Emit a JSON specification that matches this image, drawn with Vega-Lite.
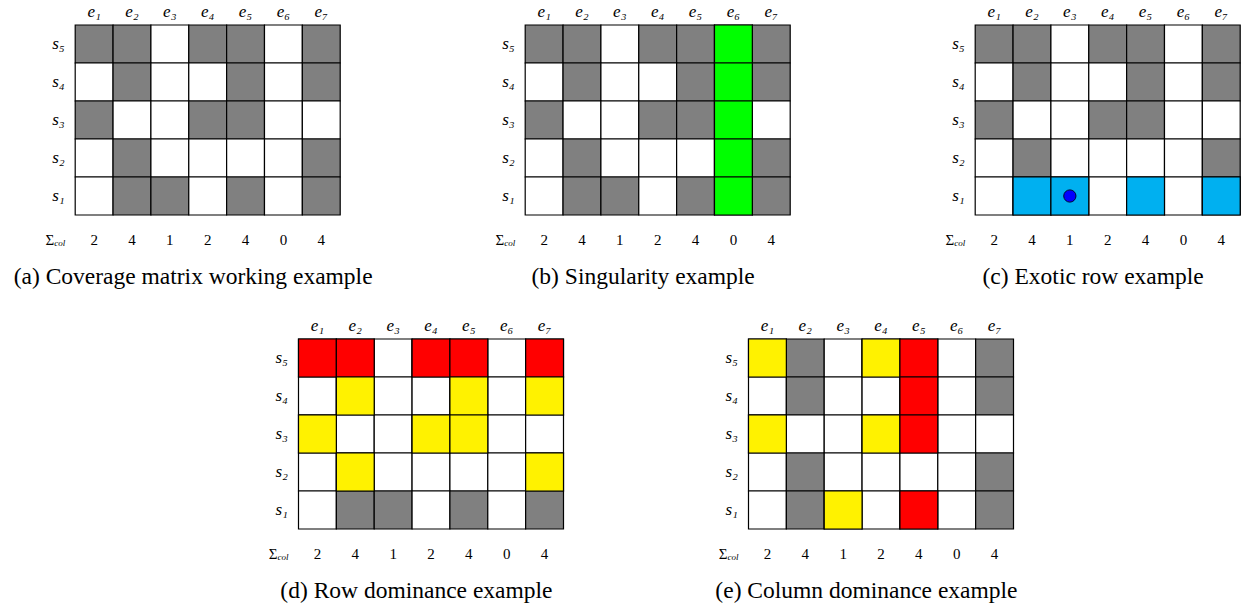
{
  "$schema": "https://vega.github.io/schema/vega-lite/v6.json",
  "padding": {"left": 13, "top": 2, "right": 0, "bottom": 0},
  "background": "white",
  "config": {
    "view": {"stroke": null},
    "font": "Liberation Serif",
    "axis": {"ticks": false, "domain": false, "grid": false, "labelFont": "Liberation Serif", "labelFontStyle": "italic", "labelFontSize": 17, "labelColor": "#000", "labelAngle": 0},
    "axisX": {"labelPadding": 5},
    "axisY": {"labelPadding": 11},
    "title": {"font": "Liberation Serif", "fontSize": 23.5, "fontWeight": "normal", "color": "#000", "orient": "bottom", "offset": 12, "frame": "bounds"},
    "text": {"font": "Liberation Serif", "fontSize": 15, "color": "#000"}
  },
  "datasets": {
    "base": [
      {"r": "s₅", "c": "e₁", "v": "G"}, {"r": "s₅", "c": "e₂", "v": "G"}, {"r": "s₅", "c": "e₃", "v": "W"}, {"r": "s₅", "c": "e₄", "v": "G"}, {"r": "s₅", "c": "e₅", "v": "G"}, {"r": "s₅", "c": "e₆", "v": "W"}, {"r": "s₅", "c": "e₇", "v": "G"},
      {"r": "s₄", "c": "e₁", "v": "W"}, {"r": "s₄", "c": "e₂", "v": "G"}, {"r": "s₄", "c": "e₃", "v": "W"}, {"r": "s₄", "c": "e₄", "v": "W"}, {"r": "s₄", "c": "e₅", "v": "G"}, {"r": "s₄", "c": "e₆", "v": "W"}, {"r": "s₄", "c": "e₇", "v": "G"},
      {"r": "s₃", "c": "e₁", "v": "G"}, {"r": "s₃", "c": "e₂", "v": "W"}, {"r": "s₃", "c": "e₃", "v": "W"}, {"r": "s₃", "c": "e₄", "v": "G"}, {"r": "s₃", "c": "e₅", "v": "G"}, {"r": "s₃", "c": "e₆", "v": "W"}, {"r": "s₃", "c": "e₇", "v": "W"},
      {"r": "s₂", "c": "e₁", "v": "W"}, {"r": "s₂", "c": "e₂", "v": "G"}, {"r": "s₂", "c": "e₃", "v": "W"}, {"r": "s₂", "c": "e₄", "v": "W"}, {"r": "s₂", "c": "e₅", "v": "W"}, {"r": "s₂", "c": "e₆", "v": "W"}, {"r": "s₂", "c": "e₇", "v": "G"},
      {"r": "s₁", "c": "e₁", "v": "W"}, {"r": "s₁", "c": "e₂", "v": "G"}, {"r": "s₁", "c": "e₃", "v": "G"}, {"r": "s₁", "c": "e₄", "v": "W"}, {"r": "s₁", "c": "e₅", "v": "G"}, {"r": "s₁", "c": "e₆", "v": "W"}, {"r": "s₁", "c": "e₇", "v": "G"}
    ],
    "overlay": [
      {"p": "b", "r": "s₅", "c": "e₆", "v": "green"}, {"p": "b", "r": "s₄", "c": "e₆", "v": "green"}, {"p": "b", "r": "s₃", "c": "e₆", "v": "green"}, {"p": "b", "r": "s₂", "c": "e₆", "v": "green"}, {"p": "b", "r": "s₁", "c": "e₆", "v": "green"},
      {"p": "c", "r": "s₁", "c": "e₂", "v": "cyan"}, {"p": "c", "r": "s₁", "c": "e₃", "v": "cyan"}, {"p": "c", "r": "s₁", "c": "e₅", "v": "cyan"}, {"p": "c", "r": "s₁", "c": "e₇", "v": "cyan"},
      {"p": "d", "r": "s₅", "c": "e₁", "v": "red"}, {"p": "d", "r": "s₅", "c": "e₂", "v": "red"}, {"p": "d", "r": "s₅", "c": "e₄", "v": "red"}, {"p": "d", "r": "s₅", "c": "e₅", "v": "red"}, {"p": "d", "r": "s₅", "c": "e₇", "v": "red"},
      {"p": "d", "r": "s₄", "c": "e₂", "v": "yellow"}, {"p": "d", "r": "s₄", "c": "e₅", "v": "yellow"}, {"p": "d", "r": "s₄", "c": "e₇", "v": "yellow"},
      {"p": "d", "r": "s₃", "c": "e₁", "v": "yellow"}, {"p": "d", "r": "s₃", "c": "e₄", "v": "yellow"}, {"p": "d", "r": "s₃", "c": "e₅", "v": "yellow"},
      {"p": "d", "r": "s₂", "c": "e₂", "v": "yellow"}, {"p": "d", "r": "s₂", "c": "e₇", "v": "yellow"},
      {"p": "e", "r": "s₅", "c": "e₁", "v": "yellow"}, {"p": "e", "r": "s₅", "c": "e₄", "v": "yellow"}, {"p": "e", "r": "s₃", "c": "e₁", "v": "yellow"}, {"p": "e", "r": "s₃", "c": "e₄", "v": "yellow"}, {"p": "e", "r": "s₁", "c": "e₃", "v": "yellow"},
      {"p": "e", "r": "s₅", "c": "e₅", "v": "red"}, {"p": "e", "r": "s₄", "c": "e₅", "v": "red"}, {"p": "e", "r": "s₃", "c": "e₅", "v": "red"}, {"p": "e", "r": "s₁", "c": "e₅", "v": "red"}
    ],
    "sums": [
      {"r": "Σ", "c": "e₁", "n": 2}, {"r": "Σ", "c": "e₂", "n": 4}, {"r": "Σ", "c": "e₃", "n": 1}, {"r": "Σ", "c": "e₄", "n": 2}, {"r": "Σ", "c": "e₅", "n": 4}, {"r": "Σ", "c": "e₆", "n": 0}, {"r": "Σ", "c": "e₇", "n": 4}
    ],
    "dots": [{"p": "c", "r": "s₁", "c": "e₃"}],
    "sig": [{"r": "Σ"}]
  },
  "center": true,
  "spacing": 27,
  "vconcat": [
    {
      "bounds": "flush",
      "spacing": 185,
      "hconcat": [
        {
          "width": 265, "height": 228,
          "title": {"text": "(a) Coverage matrix working example"},
          "encoding": {
            "x": {"field": "c", "type": "nominal", "title": null, "scale": {"domain": ["e₁","e₂","e₃","e₄","e₅","e₆","e₇"], "paddingInner": 0, "paddingOuter": 0}, "axis": {"orient": "top", "title": null}},
            "y": {"field": "r", "type": "nominal", "title": null, "scale": {"domain": ["s₅","s₄","s₃","s₂","s₁","Σ"], "paddingInner": 0, "paddingOuter": 0}, "axis": {"title": null, "labelExpr": "datum.value === 'Σ' ? '' : datum.value"}}
          },
          "layer": [
            {"data": {"name": "base"}, "mark": {"type": "rect", "stroke": "#000", "strokeWidth": 1.2},
             "encoding": {"color": {"field": "v", "type": "nominal", "legend": null, "scale": {"domain": ["W","G","green","cyan","red","yellow"], "range": ["#ffffff","#808080","#00ff00","#00b0f0","#ff0000","#fff200"]}}}},
            {"data": {"name": "sums"}, "mark": {"type": "text", "dy": 6},
             "encoding": {"text": {"field": "n"}}},
            {"data": {"name": "sig"}, "mark": {"type": "text", "text": "Σ", "dy": 6, "align": "right"},
             "encoding": {"x": {"value": -21}}},
            {"data": {"name": "sig"}, "mark": {"type": "text", "text": "col", "fontSize": 9, "fontStyle": "italic", "dy": 9, "align": "left"},
             "encoding": {"x": {"value": -21}}}
          ]
        },
        {
          "width": 265, "height": 228,
          "title": {"text": "(b) Singularity example"},
          "encoding": {
            "x": {"field": "c", "type": "nominal", "title": null, "scale": {"domain": ["e₁","e₂","e₃","e₄","e₅","e₆","e₇"], "paddingInner": 0, "paddingOuter": 0}, "axis": {"orient": "top", "title": null}},
            "y": {"field": "r", "type": "nominal", "title": null, "scale": {"domain": ["s₅","s₄","s₃","s₂","s₁","Σ"], "paddingInner": 0, "paddingOuter": 0}, "axis": {"title": null, "labelExpr": "datum.value === 'Σ' ? '' : datum.value"}}
          },
          "layer": [
            {"data": {"name": "base"}, "mark": {"type": "rect", "stroke": "#000", "strokeWidth": 1.2},
             "encoding": {"color": {"field": "v", "type": "nominal", "legend": null, "scale": {"domain": ["W","G","green","cyan","red","yellow"], "range": ["#ffffff","#808080","#00ff00","#00b0f0","#ff0000","#fff200"]}}}},
            {"data": {"name": "overlay"}, "transform": [{"filter": "datum.p === 'b'"}], "mark": {"type": "rect", "stroke": "#000", "strokeWidth": 1.2},
             "encoding": {"color": {"field": "v", "type": "nominal", "legend": null}}},
            {"data": {"name": "sums"}, "mark": {"type": "text", "dy": 6},
             "encoding": {"text": {"field": "n"}}},
            {"data": {"name": "sig"}, "mark": {"type": "text", "text": "Σ", "dy": 6, "align": "right"},
             "encoding": {"x": {"value": -21}}},
            {"data": {"name": "sig"}, "mark": {"type": "text", "text": "col", "fontSize": 9, "fontStyle": "italic", "dy": 9, "align": "left"},
             "encoding": {"x": {"value": -21}}}
          ]
        },
        {
          "width": 265, "height": 228,
          "title": {"text": "(c) Exotic row example"},
          "encoding": {
            "x": {"field": "c", "type": "nominal", "title": null, "scale": {"domain": ["e₁","e₂","e₃","e₄","e₅","e₆","e₇"], "paddingInner": 0, "paddingOuter": 0}, "axis": {"orient": "top", "title": null}},
            "y": {"field": "r", "type": "nominal", "title": null, "scale": {"domain": ["s₅","s₄","s₃","s₂","s₁","Σ"], "paddingInner": 0, "paddingOuter": 0}, "axis": {"title": null, "labelExpr": "datum.value === 'Σ' ? '' : datum.value"}}
          },
          "layer": [
            {"data": {"name": "base"}, "mark": {"type": "rect", "stroke": "#000", "strokeWidth": 1.2},
             "encoding": {"color": {"field": "v", "type": "nominal", "legend": null, "scale": {"domain": ["W","G","green","cyan","red","yellow"], "range": ["#ffffff","#808080","#00ff00","#00b0f0","#ff0000","#fff200"]}}}},
            {"data": {"name": "overlay"}, "transform": [{"filter": "datum.p === 'c'"}], "mark": {"type": "rect", "stroke": "#000", "strokeWidth": 1.2},
             "encoding": {"color": {"field": "v", "type": "nominal", "legend": null}}},
            {"data": {"name": "dots"}, "mark": {"type": "point", "filled": true, "fill": "#0000ff", "stroke": "#000033", "strokeWidth": 1, "size": 150, "opacity": 1}},
            {"data": {"name": "sums"}, "mark": {"type": "text", "dy": 6},
             "encoding": {"text": {"field": "n"}}},
            {"data": {"name": "sig"}, "mark": {"type": "text", "text": "Σ", "dy": 6, "align": "right"},
             "encoding": {"x": {"value": -21}}},
            {"data": {"name": "sig"}, "mark": {"type": "text", "text": "col", "fontSize": 9, "fontStyle": "italic", "dy": 9, "align": "left"},
             "encoding": {"x": {"value": -21}}}
          ]
        }
      ]
    },
    {
      "bounds": "flush",
      "spacing": 185,
      "hconcat": [
        {
          "width": 265, "height": 228,
          "title": {"text": "(d) Row dominance example"},
          "encoding": {
            "x": {"field": "c", "type": "nominal", "title": null, "scale": {"domain": ["e₁","e₂","e₃","e₄","e₅","e₆","e₇"], "paddingInner": 0, "paddingOuter": 0}, "axis": {"orient": "top", "title": null}},
            "y": {"field": "r", "type": "nominal", "title": null, "scale": {"domain": ["s₅","s₄","s₃","s₂","s₁","Σ"], "paddingInner": 0, "paddingOuter": 0}, "axis": {"title": null, "labelExpr": "datum.value === 'Σ' ? '' : datum.value"}}
          },
          "layer": [
            {"data": {"name": "base"}, "mark": {"type": "rect", "stroke": "#000", "strokeWidth": 1.2},
             "encoding": {"color": {"field": "v", "type": "nominal", "legend": null, "scale": {"domain": ["W","G","green","cyan","red","yellow"], "range": ["#ffffff","#808080","#00ff00","#00b0f0","#ff0000","#fff200"]}}}},
            {"data": {"name": "overlay"}, "transform": [{"filter": "datum.p === 'd'"}], "mark": {"type": "rect", "stroke": "#000", "strokeWidth": 1.2},
             "encoding": {"color": {"field": "v", "type": "nominal", "legend": null}}},
            {"data": {"name": "sums"}, "mark": {"type": "text", "dy": 6},
             "encoding": {"text": {"field": "n"}}},
            {"data": {"name": "sig"}, "mark": {"type": "text", "text": "Σ", "dy": 6, "align": "right"},
             "encoding": {"x": {"value": -21}}},
            {"data": {"name": "sig"}, "mark": {"type": "text", "text": "col", "fontSize": 9, "fontStyle": "italic", "dy": 9, "align": "left"},
             "encoding": {"x": {"value": -21}}}
          ]
        },
        {
          "width": 265, "height": 228,
          "title": {"text": "(e) Column dominance example"},
          "encoding": {
            "x": {"field": "c", "type": "nominal", "title": null, "scale": {"domain": ["e₁","e₂","e₃","e₄","e₅","e₆","e₇"], "paddingInner": 0, "paddingOuter": 0}, "axis": {"orient": "top", "title": null}},
            "y": {"field": "r", "type": "nominal", "title": null, "scale": {"domain": ["s₅","s₄","s₃","s₂","s₁","Σ"], "paddingInner": 0, "paddingOuter": 0}, "axis": {"title": null, "labelExpr": "datum.value === 'Σ' ? '' : datum.value"}}
          },
          "layer": [
            {"data": {"name": "base"}, "mark": {"type": "rect", "stroke": "#000", "strokeWidth": 1.2},
             "encoding": {"color": {"field": "v", "type": "nominal", "legend": null, "scale": {"domain": ["W","G","green","cyan","red","yellow"], "range": ["#ffffff","#808080","#00ff00","#00b0f0","#ff0000","#fff200"]}}}},
            {"data": {"name": "overlay"}, "transform": [{"filter": "datum.p === 'e'"}], "mark": {"type": "rect", "stroke": "#000", "strokeWidth": 1.2},
             "encoding": {"color": {"field": "v", "type": "nominal", "legend": null}}},
            {"data": {"name": "sums"}, "mark": {"type": "text", "dy": 6},
             "encoding": {"text": {"field": "n"}}},
            {"data": {"name": "sig"}, "mark": {"type": "text", "text": "Σ", "dy": 6, "align": "right"},
             "encoding": {"x": {"value": -21}}},
            {"data": {"name": "sig"}, "mark": {"type": "text", "text": "col", "fontSize": 9, "fontStyle": "italic", "dy": 9, "align": "left"},
             "encoding": {"x": {"value": -21}}}
          ]
        }
      ]
    }
  ]
}
